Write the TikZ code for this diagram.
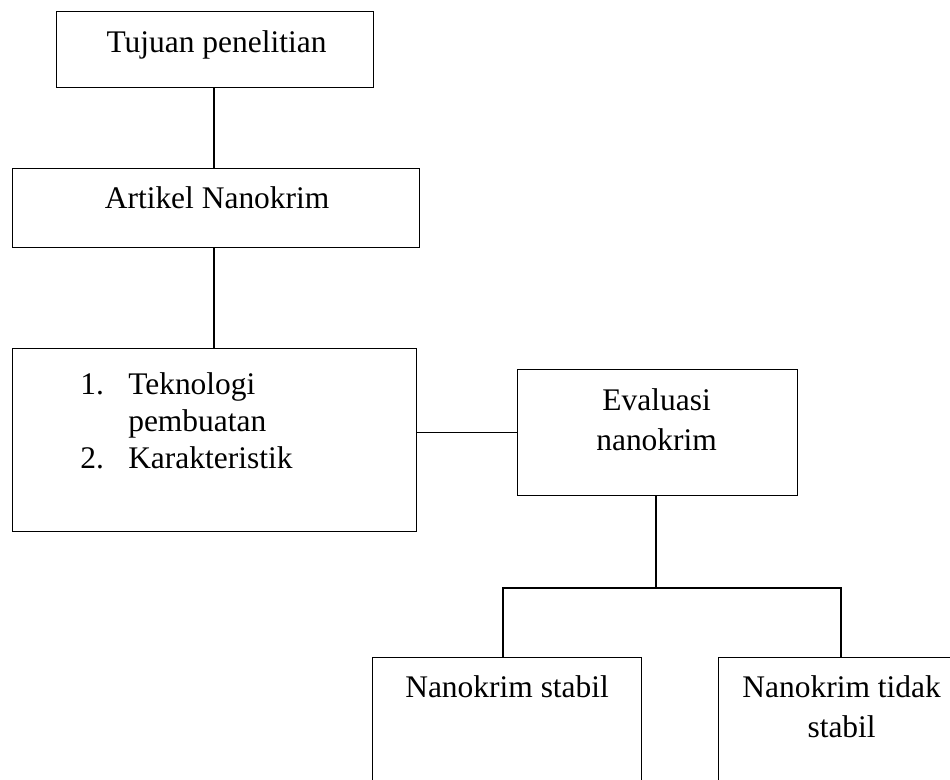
\documentclass[tikz,border=0pt]{standalone}
\usepackage{fontspec}
\setmainfont{Liberation Serif}
\usetikzlibrary{calc}
\begin{document}
\begin{tikzpicture}[x=0.75pt,y=-0.75pt,
        kotak/.style={draw,line width=0.9pt,inner sep=0pt,anchor=north west},
        teks/.style={anchor=base,inner sep=0pt,font=\fontsize{23.6pt}{30.5pt}\selectfont},
        garis/.style={line width=0.9pt}]
    \useasboundingbox (0,0) rectangle (950,779);
    \clip (0,0) rectangle (950,779);

    \node[kotak,minimum width=317*0.75pt,minimum height=76*0.75pt] (tujuan) at (56,11) {};
    \node[teks] (ttujuan) at ($(tujuan.north)+(1.5,41)$) {Tujuan penelitian};

    \node[kotak,minimum width=407*0.75pt,minimum height=79*0.75pt] (artikel) at (12,168) {};
    \node[teks] (tartikel) at ($(artikel.north)+(1,40)$) {Artikel Nanokrim};

    \node[kotak,minimum width=404*0.75pt,minimum height=183*0.75pt] (materi) at (12,348) {};
    \node[teks,anchor=base west,font=\fontsize{23.6pt}{27.75pt}\selectfont] (tmateri) at (80,394)
        {\begin{tabular}[t]{@{}p{36pt}@{}l@{}}1.&Teknologi\\&pembuatan\\2.&Karakteristik\end{tabular}};

    \node[kotak,minimum width=280*0.75pt,minimum height=126*0.75pt] (evaluasi) at (517,369) {};
    \node[teks] (tevaluasi) at ($(evaluasi.north)+(-1,41)$)
        {\begin{tabular}[t]{@{}c@{}}Evaluasi\\nanokrim\end{tabular}};

    \node[kotak,minimum width=269*0.75pt,minimum height=160*0.75pt] (stabil) at (372,657) {};
    \node[teks] (tstabil) at ($(stabil.north)+(0,40)$) {Nanokrim stabil};

    \node[kotak,minimum width=246*0.75pt,minimum height=160*0.75pt] (tidak) at (718,657) {};
    \node[teks] (ttidak) at ($(tidak.north)+(0,40)$)
        {\begin{tabular}[t]{@{}c@{}}Nanokrim tidak\\stabil\end{tabular}};

    \coordinate (cabang) at (656,588);
    \coordinate (kiri) at (503,588);
    \coordinate (kanan) at (841,588);

    \draw[garis] (214,0 |- tujuan.south) -- (214,0 |- artikel.north);
    \draw[garis] (214,0 |- artikel.south) -- (214,0 |- materi.north);
    \draw[garis] (evaluasi.west) -- (evaluasi.west -| materi.east);
    \draw[garis] (cabang |- evaluasi.south) -- (cabang);
    \draw[garis] (kiri |- stabil.north) -- (kiri) -- (kanan) -- (kanan |- tidak.north);
\end{tikzpicture}
\end{document}
